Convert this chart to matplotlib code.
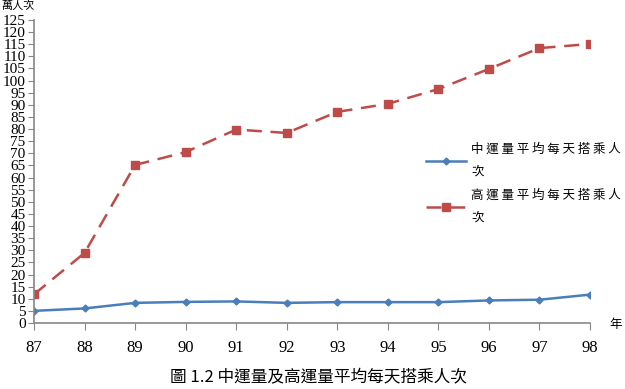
import matplotlib
matplotlib.use('Agg')
import matplotlib.pyplot as plt
import numpy as np

years = ['87', '88', '89', '90', '91', '92', '93', '94', '95', '96', '97', '98']
mid_cap = [5.0, 6.0, 8.3, 8.7, 8.9, 8.3, 8.6, 8.6, 8.6, 9.3, 9.6, 11.7]
high_cap = [11.8, 28.9, 65.2, 70.5, 79.8, 78.4, 87.1, 90.4, 96.5, 104.8, 113.4, 115.1]
labels = ['中 運 量 平 均 每 天 搭 乘 人\n次', '高 運 量 平 均 每 天 搭 乘 人\n次']

plt.rcParams['font.family'] = ['Liberation Serif', 'Noto Sans CJK TC']
cjk = ['Noto Sans CJK TC', 'Liberation Serif']

fig = plt.figure(figsize=(6.25, 3.89), dpi=100)
ax = fig.add_axes([0.0544, 0.1697, 0.8896, 0.7789])

x = np.arange(len(years))
ax.plot(x, mid_cap, color='#4A7EBB', lw=1.8, marker='D', ms=3.5, label=labels[0])
ax.plot(x, high_cap, color='#BE4B48', lw=1.8, marker='s', ms=5.5, dashes=(6, 3.5), label=labels[1])

ax.set_xlim(0, 11)
ax.set_ylim(0, 125)
ax.set_yticks(np.arange(0, 126, 5))
ax.set_xticks(x)
ax.set_xticklabels(years)
ax.tick_params(axis='y', direction='out', length=4, color='#868686', labelsize=11, pad=2)
ax.tick_params(axis='x', direction='out', length=5, color='#868686', labelsize=12, pad=7)
for s in ['top', 'right']:
    ax.spines[s].set_visible(False)
for s in ['left', 'bottom']:
    ax.spines[s].set_color('#868686')
    ax.spines[s].set_linewidth(1.2)

fig.text(0.002, 1.0, '萬人次', family=cjk, fontsize=8, va='top', ha='left')
fig.text(0.985, 0.165, '年', family=cjk, fontsize=9, va='center', ha='center')
fig.text(0.51, 0.008, '圖 1.2 中運量及高運量平均每天搭乘人次', family=cjk, fontsize=12, ha='center', va='bottom')

leg = ax.legend(loc='upper left', bbox_to_anchor=(0.685, 0.632), frameon=False,
                prop={'family': cjk, 'size': 9}, handlelength=3.2, labelspacing=0.9,
                handletextpad=0.4)
for t in leg.get_texts():
    t.set_linespacing(1.9)

fig.savefig('out.png', dpi=100)
